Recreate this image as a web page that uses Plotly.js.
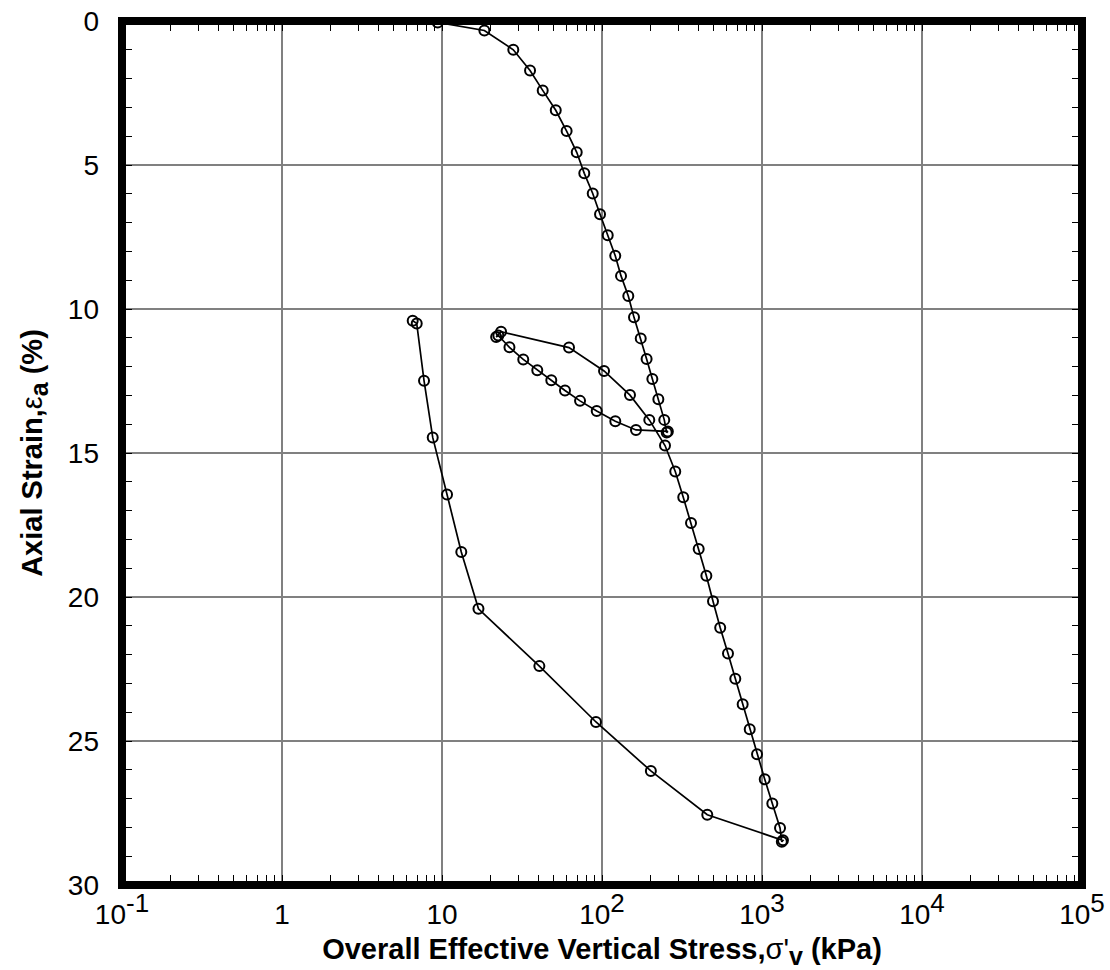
<!DOCTYPE html>
<html>
<head>
<meta charset="utf-8">
<script src="https://cdn.plot.ly/plotly-3.0.1.min.js"></script>
<style>body{margin:0;background:#fff}#chart{width:1110px;height:970px}</style>
</head>
<body>
<div id="chart"></div>
<script>
// Overall effective vertical stress (kPa), in test order
var stress = [
  9.4, 18.4, 27.9, 35.5, 42.6, 51.4, 60.1, 69.5, 77.5, 87.5, 97.2, 108.6, 121, 131.5, 146,
  158.5, 174.6, 190, 206.4, 225, 245, 253.7, 258,
  163.1, 121.1, 92.7, 72.9, 58.7, 48.2, 39.4, 32.2, 26.4, 22.5, 21.8,
  23.4, 62.2, 103, 149.6, 197.5,
  247.6, 287, 322, 360, 402, 449, 494, 548, 613, 681, 757, 838, 931, 1040, 1160, 1296, 1330, 1352,
  455, 202, 91.7, 40.6, 16.9, 13.2, 10.75, 8.75, 7.72, 6.95, 6.56
];
// Axial strain (%), same order
var strain = [
  0.05, 0.33, 1.0, 1.72, 2.41, 3.1, 3.82, 4.56, 5.29, 5.99, 6.71, 7.44, 8.15, 8.85, 9.55,
  10.29, 11.02, 11.74, 12.43, 13.13, 13.85, 14.29, 14.25,
  14.2, 13.9, 13.54, 13.19, 12.83, 12.47, 12.13, 11.75, 11.33, 10.92, 10.97,
  10.79, 11.34, 12.15, 12.99, 13.85,
  14.74, 15.64, 16.54, 17.43, 18.33, 19.26, 20.15, 21.07, 21.96, 22.84, 23.72, 24.59, 25.46, 26.33, 27.17, 28.02, 28.5, 28.45,
  27.56, 26.04, 24.34, 22.4, 20.41, 18.44, 16.44, 14.46, 12.49, 10.5, 10.41
];
var xTickVals = [0.1, 1, 10, 100, 1000, 10000, 100000];
var xTickBase = ['10', '1', '10', '10', '10', '10', '10'];
var xTickExp = ['-1', '', '', '2', '3', '4', '5'];
var yTickVals = [0, 5, 10, 15, 20, 25, 30];
var yTickText = ['0', '5', '10', '15', '20', '25', '30'];

var xTickText = xTickBase.map(function (b, i) {
  return xTickExp[i] ? b + '<sup><span style="font-size:26px">' + xTickExp[i] + '</span></sup>' : b;
});

var xMinor = [];
for (var d = -1; d < 5; d++) {
  for (var m = 2; m <= 9; m++) xMinor.push(m * Math.pow(10, d));
}

var FONT = 'Liberation Sans, Arial, sans-serif';

var trace = {
  x: stress, y: strain, type: 'scatter', mode: 'lines+markers',
  line: {color: '#000', width: 1.7},
  marker: {symbol: 'circle-open', size: 10, color: '#000', line: {color: '#000', width: 2}},
  showlegend: false, cliponaxis: true
};

var layout = {
  width: 1110, height: 970,
  margin: {l: 122, r: 28, t: 21, b: 85, pad: 0},
  paper_bgcolor: '#fff', plot_bgcolor: '#fff',
  font: {family: FONT, color: '#000'},
  xaxis: {
    type: 'log', range: [-1, 5],
    tickmode: 'array', tickvals: xTickVals, ticktext: xTickText,
    ticks: 'inside', ticklen: 10, tickwidth: 1, tickcolor: '#000',
    mirror: 'ticks', showline: false, zeroline: false,
    showgrid: true, gridcolor: '#808080', gridwidth: 1.2,
    tickfont: {family: FONT, size: 28, color: '#000'},
    ticklabelstandoff: 10,
    minor: {tickmode: 'array', tickvals: xMinor, ticks: 'inside', ticklen: 10, tickwidth: 1, tickcolor: '#000', showgrid: false},
    title: {text: '<b>Overall Effective Vertical Stress,</b>σ\'<b><sub><span style="font-size:25px">v</span></sub> (kPa)</b>', font: {family: FONT, size: 29, color: '#000'}, standoff: 10}
  },
  yaxis: {
    range: [30, 0],
    tickmode: 'array', tickvals: yTickVals, ticktext: yTickText,
    ticks: 'inside', ticklen: 10, tickwidth: 1, tickcolor: '#000',
    mirror: 'ticks', showline: false, zeroline: false,
    showgrid: true, gridcolor: '#808080', gridwidth: 1.2,
    tickfont: {family: FONT, size: 28, color: '#000'},
    ticklabelstandoff: 22,
    minor: {dtick: 1, ticks: 'inside', ticklen: 10, tickwidth: 1, tickcolor: '#000', showgrid: false},
    title: {text: '<b>Axial Strain,</b>ε<b><sub><span style="font-size:25px">a</span></sub> (%)</b>', font: {family: FONT, size: 29, color: '#000'}, standoff: 16}
  },
  shapes: [{
    type: 'rect', xref: 'paper', yref: 'paper', x0: 0, x1: 1, y0: 0, y1: 1,
    line: {color: '#000', width: 8}, fillcolor: 'rgba(0,0,0,0)', layer: 'above'
  }]
};

Plotly.newPlot('chart', [trace], layout, {displayModeBar: false, staticPlot: true});
</script>
</body>
</html>
